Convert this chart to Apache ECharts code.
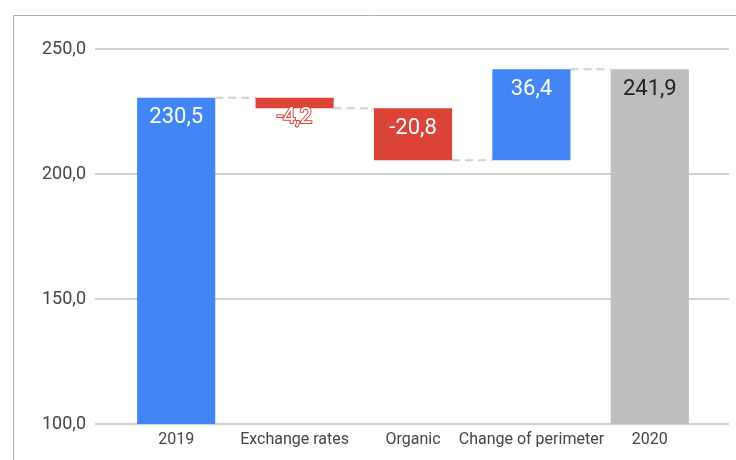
<!DOCTYPE html>
<html>
<head>
<meta charset="utf-8">
<script src="https://cdn.jsdelivr.net/npm/echarts@6/dist/echarts.min.js"></script>
<style>
  html, body { margin: 0; padding: 0; background: #fff; }
  #chart { width: 736px; height: 460px; }
</style>
</head>
<body>
<div id="chart"></div>
<script>
// waterfall data
var categories = ['2019', 'Exchange rates', 'Organic', 'Change of perimeter', '2020'];
var changes = [230.5, -4.2, -20.8, 36.4, 241.9];
var isTotal = [true, false, false, false, true];
var yTicks = { min: 100, max: 250, interval: 50 };

var blue = '#4285F4', red = '#DB4437', grey = '#BDBDBD';

// build the stacked pieces: invisible base + visible part
var baseData = [], barData = [], levels = [];
var running = 0;
changes.forEach(function (v, i) {
  var low, high;
  if (isTotal[i]) {
    low = 0; high = v; running = v;
  } else {
    var next = running + v;
    low = Math.min(running, next); high = Math.max(running, next);
    running = next;
  }
  levels.push(+running.toFixed(1));
  baseData.push(+low.toFixed(1));
  var color = isTotal[i] ? (i === 0 ? blue : grey) : (v < 0 ? red : blue);
  var item = {
    value: +(high - low).toFixed(1),
    itemStyle: { color: color },
    label: {}
  };
  if (i === changes.length - 1) item.label.color = '#222';
  if (Math.abs(v) < 8 && !isTotal[i]) {
    item.label = {
      position: 'bottom', distance: -2, color: '#fff',
      textBorderColor: red, textBorderWidth: 2
    };
  }
  barData.push(item);
});

function fmt(v) { return v.toFixed(1).replace('.', ','); }

var chart = echarts.init(document.getElementById('chart'));
chart.setOption({
  animation: false,
  textStyle: { fontFamily: 'Roboto' },
  graphic: [{
    type: 'rect', silent: true, z: -10,
    shape: { x: 13.5, y: 15.5, width: 900, height: 600 },
    style: { fill: 'none', stroke: '#b0b0b0', lineWidth: 1 }
  }],
  grid: [
    { left: 117, right: 27, top: 49, bottom: 36 },
    { left: 95, right: 7, top: 49, bottom: 36 }
  ],
  xAxis: [
    {
      type: 'category', gridIndex: 0, data: categories,
      axisLine: { show: false }, axisTick: { show: false },
      axisLabel: { color: '#444', fontSize: 16, margin: 8, interval: 0 }
    },
    { type: 'value', gridIndex: 1, show: false, min: 0, max: 1 }
  ],
  yAxis: [
    {
      type: 'value', gridIndex: 0, min: yTicks.min, max: yTicks.max, interval: yTicks.interval,
      axisLine: { show: false }, axisTick: { show: false },
      axisLabel: { show: false }, splitLine: { show: false }
    },
    {
      type: 'value', gridIndex: 1, min: yTicks.min, max: yTicks.max, interval: yTicks.interval,
      axisLine: { show: false }, axisTick: { show: false },
      axisLabel: { color: '#444', fontSize: 18, margin: 9, formatter: fmt },
      splitLine: { lineStyle: { color: '#d0d0d0', width: 2 } }
    }
  ],
  series: [
    {
      type: 'custom', xAxisIndex: 0, yAxisIndex: 0, z: 1,
      data: levels.slice(0, -1).map(function (l, i) { return [i, l]; }),
      renderItem: function (params, api) {
        var p = api.coord([api.value(0), api.value(1)]);
        var bw = api.size([1, 0])[0];
        var half = bw * 0.33;
        return {
          type: 'line',
          shape: { x1: p[0] + half, y1: p[1], x2: p[0] + bw - half, y2: p[1] },
          style: { stroke: '#d0d0d0', lineWidth: 2, lineDash: [8, 5] }
        };
      }
    },
    {
      type: 'bar', stack: 'wf', xAxisIndex: 0, yAxisIndex: 0,
      data: baseData, barCategoryGap: '34%',
      itemStyle: { color: 'transparent' }, silent: true
    },
    {
      type: 'bar', stack: 'wf', xAxisIndex: 0, yAxisIndex: 0, z: 3,
      data: barData, barCategoryGap: '34%',
      label: {
        show: true, position: 'insideTop', distance: 9,
        color: '#fff', fontSize: 22,
        formatter: function (p) { return fmt(changes[p.dataIndex]); }
      }
    }
  ]
});
</script>
</body>
</html>
